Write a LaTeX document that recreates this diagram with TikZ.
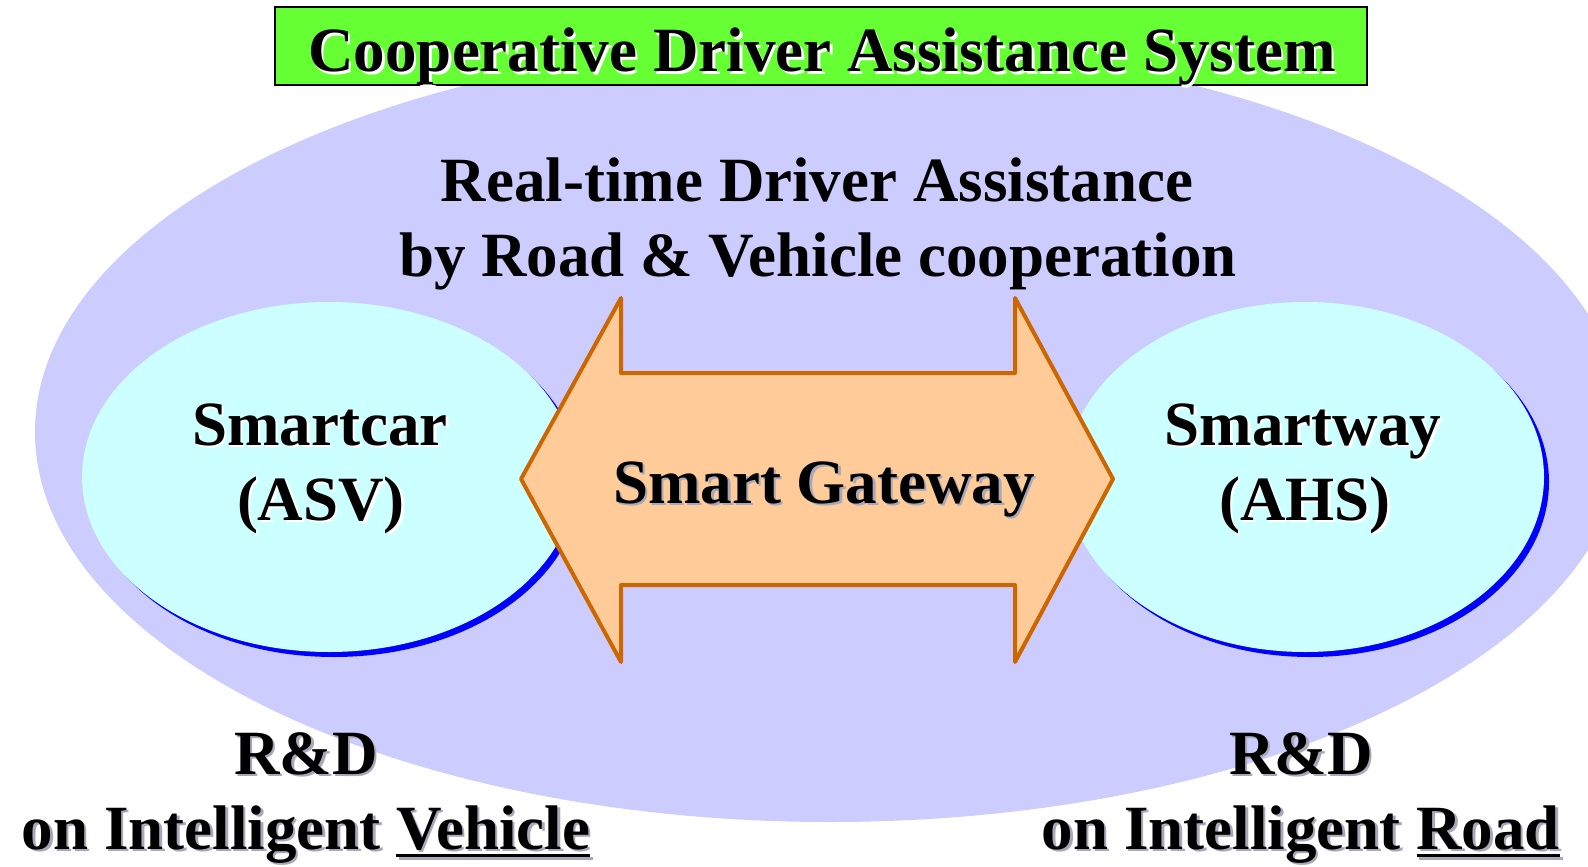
\documentclass[tikz,border=0pt]{standalone}
\usepackage{fontspec}
\setmainfont{Liberation Serif}
\usetikzlibrary{shapes.geometric}
\definecolor{bigell}{HTML}{CCCCFF}
\definecolor{smallell}{HTML}{CCFFFF}
\definecolor{ellshadow}{HTML}{0000FF}
\definecolor{arrfill}{HTML}{FFCC99}
\definecolor{arrline}{HTML}{CC6600}
\definecolor{titlegreen}{HTML}{66FF33}
\definecolor{txtshadow}{HTML}{A8A8B8}
\newcommand\bigfont{\fontsize{63}{75}\selectfont\bfseries}
\newcommand\thickul[1]{\setbox0\hbox{#1}\rlap{\rule[-8pt]{\wd0}{3pt}}\box0}
\newcommand\stxt[4]{\node[txt,text=#1,xshift=2.5pt,yshift=-2.5pt] at (#3) {#4};\node[txt] (#2) at (#3) {#4};}
\tikzset{
  txt/.style={font=\bigfont, text=black, inner sep=0pt, anchor=base},
  ellbox/.style={ellipse, inner sep=0pt, draw=none},
}
\begin{document}
\begin{tikzpicture}[x=1pt,y=-1pt]
\useasboundingbox (0,0) rectangle (1588,867);
\fill[white] (0,0) rectangle (1588,867);
\begin{scope}
\clip (0,0) rectangle (1588,867);
% big system ellipse
\node[ellbox, fill=bigell, minimum width=1590, minimum height=780] (system) at (830,432) {};
% small ellipses with blue shadow
\node[ellbox, fill=ellshadow, minimum width=494, minimum height=350] (carshadow) at (334,482) {};
\node[ellbox, fill=smallell, minimum width=494, minimum height=350] (car) at (329,477) {};
\node[ellbox, fill=ellshadow, minimum width=478, minimum height=350] (wayshadow) at (1310,482) {};
\node[ellbox, fill=smallell, minimum width=478, minimum height=350] (way) at (1305,477) {};
% double arrow
\coordinate (gl) at (521,479);
\coordinate (gr) at (1113,479);
\draw[arrline, line width=4, fill=arrfill, line join=round]
  (gl) -- (621,298) -- (621,373) -- (1015,373) -- (1015,298) -- (gr)
  -- (1015,662) -- (1015,585) -- (621,585) -- (621,662) -- cycle;
% title box
\node[draw=black, line width=1.5, fill=titlegreen, minimum width=1092, minimum height=78, inner sep=0pt] (titlebox) at (821,46) {};
% texts
\stxt{white}{title}{822,72}{Cooperative Driver Assistance System}
\node[txt] (rt1) at (817,201) {Real-time Driver Assistance};
\node[txt] (rt2) at (818,276) {by Road \& Vehicle cooperation};
\stxt{white}{car1}{320,445}{Smartcar}
\stxt{white}{car2}{321,520}{(ASV)}
\stxt{white}{way1}{1303,445}{Smartway}
\stxt{white}{way2}{1305,520}{(AHS)}
\stxt{txtshadow}{gate}{824,503}{Smart Gateway}
\stxt{txtshadow}{rdl1}{306,774}{R\&D}
\stxt{txtshadow}{rdl2}{306,849}{on Intelligent \thickul{Vehicle}}
\stxt{txtshadow}{rdr1}{1301,774}{R\&D}
\stxt{txtshadow}{rdr2}{1301,849}{on Intelligent \thickul{Road}}
\end{scope}
\end{tikzpicture}
\end{document}
